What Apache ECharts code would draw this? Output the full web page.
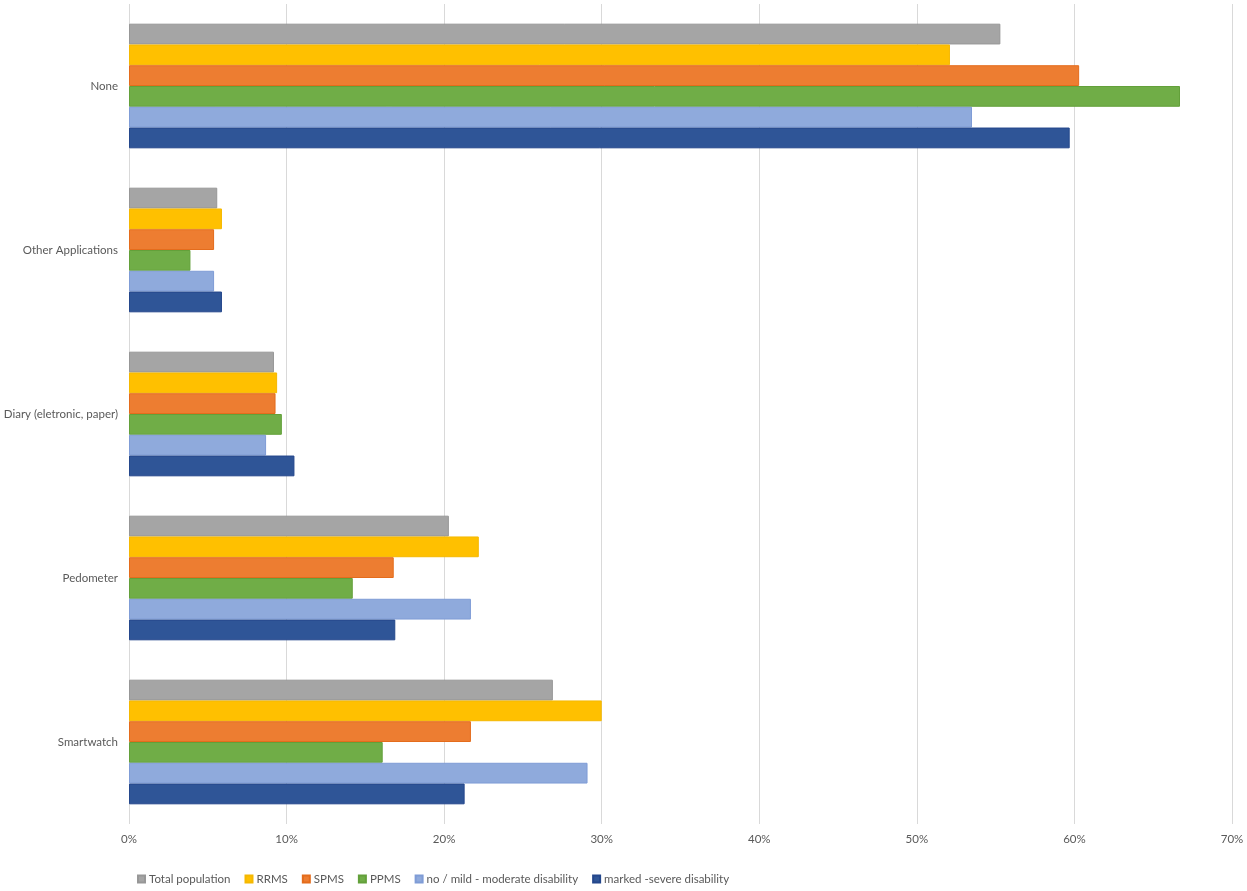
<!DOCTYPE html>
<html>
<head>
<meta charset="utf-8">
<script src="https://cdn.jsdelivr.net/npm/echarts@6/dist/echarts.min.js"></script>
<style>
  html, body { margin: 0; padding: 0; background: #fff; }
  #chart-container { width: 1247px; height: 891px; }
</style>
</head>
<body>
<div id="chart-container"></div>
<script>
var dom = document.getElementById("chart-container");
var myChart = echarts.init(dom, null, { renderer: "canvas" });

// categories, bottom to top
var categories = ["Smartwatch", "Pedometer", "Diary (eletronic, paper)", "Other Applications", "None"];

// values in percent, same order as categories
var totalPopulation = [26.9, 20.3, 9.2, 5.6, 55.3];
var rrms = [30.0, 22.2, 9.4, 5.9, 52.1];
var spms = [21.7, 16.8, 9.3, 5.4, 60.3];
var ppms = [16.1, 14.2, 9.7, 3.9, 66.7];
var mildDisability = [29.1, 21.7, 8.7, 5.4, 53.5];
var severeDisability = [21.3, 16.9, 10.5, 5.9, 59.7];

var seriesNames = [
  "Total population",
  "RRMS",
  "SPMS",
  "PPMS",
  "no / mild - moderate disability",
  "marked -severe disability",
];
var seriesData = [totalPopulation, rrms, spms, ppms, mildDisability, severeDisability];
var colors = ["#A5A5A5", "#FFC000", "#ED7D31", "#70AD47", "#8FAADC", "#2F5597"];
var borders = ["#979797", "#F5B800", "#E46C1C", "#63A03A", "#7F9CD6", "#24478C"];

var series = seriesNames.map(function (name, i) {
  return {
    name: name,
    type: "bar",
    data: seriesData[i],
    barGap: "0%",
    barCategoryGap: "24%",
    itemStyle: { color: colors[i], borderColor: borders[i], borderWidth: 1 },
  };
});

var option = {
  animation: false,
  textStyle: { fontFamily: "Lato, Liberation Sans, sans-serif" },
  grid: { left: 129, right: 15, top: 4, bottom: 67 },
  legend: {
    top: 873,
    left: 132,
    padding: [0, 5],
    itemWidth: 7,
    itemHeight: 7,
    itemGap: 14,
    icon: "rect",
    textStyle: { color: "#595959", fontSize: 11.5, padding: [0, 0, 0, -1] },
    data: seriesNames,
  },
  xAxis: {
    type: "value",
    min: 0,
    max: 70,
    interval: 10,
    axisLine: { show: false },
    axisTick: { show: false },
    splitLine: { lineStyle: { color: "#D9D9D9", width: 1 } },
    axisLabel: {
      color: "#595959",
      fontSize: 11.5,
      margin: 9,
      formatter: function (v) { return v + "%"; },
    },
  },
  yAxis: {
    type: "category",
    data: categories,
    axisLine: { show: false },
    axisTick: { show: false },
    axisLabel: { color: "#595959", fontSize: 11.5, margin: 11 },
  },
  series: series,
};

myChart.setOption(option);
window.addEventListener("resize", myChart.resize);
</script>
</body>
</html>
